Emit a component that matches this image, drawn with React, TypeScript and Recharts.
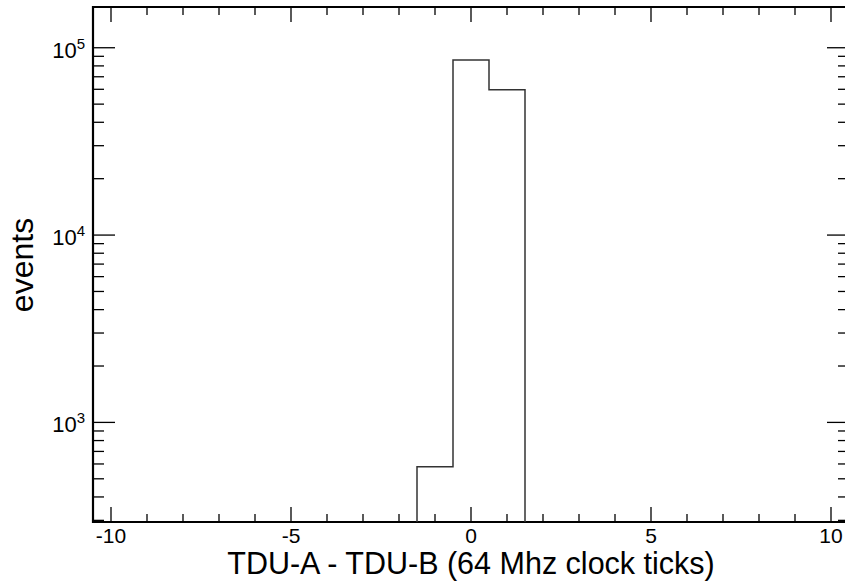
import React from "react";
import {
  ComposedChart,
  Line,
  XAxis,
  YAxis,
  ReferenceArea,
} from "recharts";

// histogram bins (TDU-A - TDU-B), unit-width bins centred on integers
const binCenters = [-1, 0, 1];
const binCounts = [580, 86000, 59700];

const xTicks = [-10, -9, -8, -7, -6, -5, -4, -3, -2, -1, 0, 1, 2, 3, 4, 5, 6, 7, 8, 9, 10];
const xMajor = [-10, -5, 0, 5, 10];
const yTicks = [
  300, 400, 500, 600, 700, 800, 900,
  1000, 2000, 3000, 4000, 5000, 6000, 7000, 8000, 9000,
  10000, 20000, 30000, 40000, 50000, 60000, 70000, 80000, 90000,
  100000,
];

const X_MIN = -10.5;
const X_MAX = 10.5;
const Y_MIN = 294;
const Y_MAX = 165000;

const FONT = "'Liberation Sans', Arial, Helvetica, sans-serif";

// plot frame in pixels
const LEFT = 93;
const RIGHT = 849;
const TOP = 7;
const BOTTOM = 522;

// step outline of the histogram
const outline: { x: number; y: number }[] = [];
binCenters.forEach((c, i) => {
  const lo = c - 0.5;
  const hi = c + 0.5;
  if (i === 0) outline.push({ x: lo, y: Y_MIN });
  outline.push({ x: lo, y: binCounts[i] });
  outline.push({ x: hi, y: binCounts[i] });
  if (i === binCenters.length - 1) outline.push({ x: hi, y: Y_MIN });
});

const XTick = (props: any) => {
  const { x, payload } = props;
  const major = xMajor.includes(payload.value);
  const len = major ? 15 : 8;
  return (
    <g>
      <line x1={x} y1={BOTTOM} x2={x} y2={BOTTOM - len} stroke="#000" strokeWidth={1.3} />
      <line x1={x} y1={TOP} x2={x} y2={TOP + len} stroke="#000" strokeWidth={1.3} />
      {major && (
        <text x={x} y={543} textAnchor="middle" fontSize={21} fontFamily={FONT} fill="#000">
          {payload.value}
        </text>
      )}
    </g>
  );
};

const YTick = (props: any) => {
  const { y, payload } = props;
  const exp = Math.log10(payload.value);
  const major = Math.abs(exp - Math.round(exp)) < 1e-9;
  const len = major ? 22 : 11;
  return (
    <g>
      <line x1={LEFT} y1={y} x2={LEFT + len} y2={y} stroke="#000" strokeWidth={1.3} />
      <line x1={RIGHT} y1={y} x2={RIGHT - len} y2={y} stroke="#000" strokeWidth={1.3} />
      {major && (
        <text x={85} y={y + 10} textAnchor="end" fontSize={22} fontFamily={FONT} fill="#000">
          10
          <tspan fontSize={15} dy={-9}>
            {Math.round(exp)}
          </tspan>
        </text>
      )}
    </g>
  );
};

const XTitle = (props: any) => {
  const { viewBox } = props;
  return (
    <text
      x={viewBox.x + viewBox.width / 2}
      y={574}
      textAnchor="middle"
      fontSize={30.5}
      fontFamily={FONT}
      fill="#000"
    >
      TDU-A - TDU-B (64 Mhz clock ticks)
    </text>
  );
};

const YTitle = () => (
  <text
    x={33}
    y={265}
    transform="rotate(-90 33 265)"
    textAnchor="middle"
    fontSize={32}
    fontFamily={FONT}
    fill="#000"
  >
    events
  </text>
);

export default function App() {
  return (
    <div
      style={{
        position: "absolute",
        left: 0,
        top: 0,
        width: 845,
        height: 582,
        overflow: "hidden",
        background: "#fff",
      }}
    >
      <ComposedChart
        width={852}
        height={582}
        data={outline}
        margin={{ top: TOP, right: 852 - RIGHT, left: 0, bottom: 0 }}
      >
        <XAxis
          dataKey="x"
          type="number"
          domain={[X_MIN, X_MAX]}
          ticks={xTicks}
          interval={0}
          height={582 - BOTTOM}
          axisLine={false}
          tickLine={false}
          tick={<XTick />}
          allowDataOverflow
          label={<XTitle />}
        />
        <YAxis
          type="number"
          scale="log"
          domain={[Y_MIN, Y_MAX]}
          ticks={yTicks}
          interval={0}
          width={LEFT}
          axisLine={false}
          tickLine={false}
          tick={<YTick />}
          allowDataOverflow
          label={<YTitle />}
        />
        <ReferenceArea
          x1={X_MIN}
          x2={X_MAX}
          y1={Y_MIN}
          y2={Y_MAX}
          fill="none"
          fillOpacity={0}
          stroke="#000"
          strokeWidth={2.2}
          ifOverflow="visible"
        />
        <Line
          type="linear"
          dataKey="y"
          stroke="#333"
          strokeWidth={1.5}
          dot={false}
          activeDot={false}
          isAnimationActive={false}
        />
      </ComposedChart>
    </div>
  );
}
